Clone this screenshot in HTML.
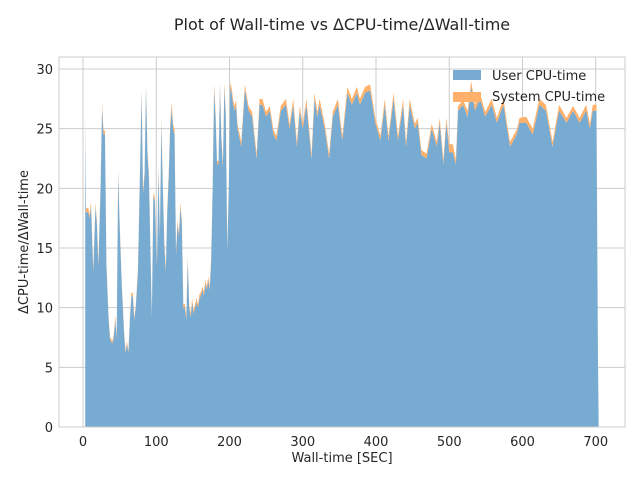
<!DOCTYPE html>
<html><head><meta charset="utf-8"><style>
body{margin:0;background:#fff;}
svg{display:block;font-family:"DejaVu Sans","Liberation Sans",sans-serif;}
</style></head><body>
<svg id="chart" width="640" height="480">
<text x="342" y="30" text-anchor="middle" font-size="16" fill="#262626">Plot of Wall-time vs ΔCPU-time/ΔWall-time</text>
<g id="grid"></g>
<g id="areas"></g>
<rect x="59" y="57" width="566" height="370" fill="none" stroke="#cccccc" stroke-width="1"/>
<g id="ticks"></g>
<text x="342" y="462" text-anchor="middle" font-size="13" fill="#262626">Wall-time [SEC]</text>
<text transform="translate(28,242) rotate(-90)" text-anchor="middle" font-size="13" fill="#262626">ΔCPU-time/ΔWall-time</text>
<g>
<g><rect x="453" y="70" width="28" height="10" fill="#77abd1"/><text x="492" y="80" font-size="13" fill="#262626">User CPU-time</text></g>
<g><rect x="453" y="92" width="28" height="10" fill="#ffb06a"/><text x="492" y="101" font-size="13" fill="#262626">System CPU-time</text></g>
</g>
</svg>
<script>
const times=[3,4,7,9,11,14,17,19,21,24,26,28,30,32,35,37,40,42,44,46,48,50,53,56,58,60,62,64,66,68,70,72,75,78,80,82,84,86,88,90,92,94,96,98,101,103,105,107,109,111,113,115,117,119,121,123,125,127,129,131,133,135,137,139,141,143,145,147,149,151,153,155,157,159,161,163,165,167,169,171,173,175,177,179,181,183,185,187,189,191,193,195,197,199,201,203,205,207,209,211,216,221,226,231,237,241,245,250,255,260,264,270,277,282,287,292,296,300,305,312,316,320,323,330,336,341,348,354,361,367,374,378,385,392,399,406,412,417,424,430,437,441,446,453,457,462,469,476,483,487,492,496,500,505,509,512,519,525,530,535,542,549,558,565,574,579,583,592,596,605,614,623,632,641,650,660,669,678,687,692,696,701,703,704];
const userVals=[26,18,18,17.5,18.5,13,18.5,17,13.5,20,26.8,24.5,24.5,13.5,9,7.3,7,7.5,9,7.5,21.3,17,11.8,8,6.2,7,6.2,9,10.9,11,9,10,13,22,28,19.6,21,28.5,22.9,21,15,9.2,19.3,19,13.5,21.5,16,25.5,20,15.4,13,18,21,25,26.8,25,24.5,14.5,17,16,18.5,17,10,10,9,14,10,9.2,10.5,9.5,10,10.5,10,10.8,11,11.5,11,12,11.5,12.3,11.5,14,20,28.3,26,22,22,28.5,24,21.8,28.5,26,14.8,20,28.5,28,27,26.5,27,25,23.5,28.3,26.5,26,22.5,27,27,26,26.5,24.5,24,26.5,27,25,27,23.5,26.5,25,27,22.5,27.5,26,27,25,22.5,26,27,24,28,27,28,27,28,28.2,25.5,24,27,24,27.5,24,27,23.5,27,25,25.5,22.8,22.5,25,23.5,25.5,22,25.5,23,23,22,26.5,27,26,28.5,26.5,27.5,26,27,25.5,27,25,23.5,24.5,25.5,25.5,24.5,27,26.5,23.5,26.5,25.5,26.5,25.5,26.5,25,26.5,26.5,6,0];
const sysVals=[0.4,0.3,0.4,0.3,0.4,0.3,0.3,0.3,0.3,0.3,0.4,0.4,0.3,0.3,0.2,0.2,0.2,0.2,0.3,0.2,0.3,0.3,0.2,0.2,0.2,0.2,0.2,0.2,0.3,0.3,0.2,0.2,0.3,0.3,0.3,0.3,0.3,0.3,0.3,0.3,0.3,0.2,0.3,0.3,0.3,0.3,0.3,0.4,0.3,0.3,0.3,0.3,0.3,0.4,0.4,0.4,0.4,0.3,0.3,0.3,0.3,0.3,0.3,0.3,0.3,0.3,0.3,0.3,0.3,0.3,0.3,0.3,0.3,0.3,0.3,0.3,0.3,0.3,0.3,0.3,0.3,0.3,0.3,0.4,0.4,0.3,0.3,0.4,0.4,0.3,0.4,0.4,0.3,0.3,0.4,0.4,0.4,0.4,0.4,0.4,0.4,0.4,0.4,0.4,0.4,0.5,0.5,0.4,0.4,0.4,0.4,0.4,0.5,0.4,0.5,0.4,0.4,0.4,0.5,0.4,0.5,0.4,0.5,0.4,0.4,0.4,0.5,0.4,0.5,0.5,0.5,0.5,0.5,0.5,0.4,0.4,0.5,0.4,0.5,0.4,0.5,0.4,0.5,0.4,0.4,0.4,0.4,0.4,0.4,0.4,0.4,0.4,0.7,0.7,0.4,0.4,0.4,0.5,0.5,0.5,0.5,0.4,0.5,0.4,0.5,0.4,0.4,0.4,0.4,0.5,0.5,0.5,0.5,0.4,0.5,0.4,0.4,0.4,0.5,0.4,0.5,0.5,0.5,0.3,0];
const xTicks=[0,100,200,300,400,500,600,700];
const yTicks=[0,5,10,15,20,25,30];
const X=v=>83+v*0.7325;
const Y=v=>427-v*11.933;
const NS='http://www.w3.org/2000/svg';
const grid=document.getElementById('grid'),ticks=document.getElementById('ticks'),areas=document.getElementById('areas');
xTicks.forEach(t=>{
  const l=document.createElementNS(NS,'line');
  l.setAttribute('x1',X(t));l.setAttribute('x2',X(t));l.setAttribute('y1',57);l.setAttribute('y2',427);
  l.setAttribute('stroke','#cccccc');
  
  
  grid.appendChild(l);
  const tx=document.createElementNS(NS,'text');
  tx.setAttribute('x',X(t));tx.setAttribute('y',446);tx.setAttribute('text-anchor','middle');tx.setAttribute('font-size','13');tx.setAttribute('fill','#262626');
  tx.textContent=t;
  
  
  ticks.appendChild(tx);
});
yTicks.forEach(t=>{
  const l=document.createElementNS(NS,'line');
  l.setAttribute('x1',59);l.setAttribute('x2',625);l.setAttribute('y1',Y(t));l.setAttribute('y2',Y(t));
  l.setAttribute('stroke','#cccccc');
  
  
  grid.appendChild(l);
  const tx=document.createElementNS(NS,'text');
  tx.setAttribute('x',53);tx.setAttribute('y',Y(t)+5);tx.setAttribute('text-anchor','end');tx.setAttribute('font-size','13');tx.setAttribute('fill','#262626');
  tx.textContent=t;
  
  
  ticks.appendChild(tx);
});
let top1=[],top2=[];
times.forEach((t,i)=>{top1.push([X(t),Y(userVals[i])]);top2.push([X(t),Y(userVals[i]+sysVals[i])]);});
const base=[[X(times[times.length-1]),Y(0)],[X(times[0]),Y(0)]];
const sysPath=document.createElementNS(NS,'path');
sysPath.setAttribute('d','M'+top2.map(p=>p.join(',')).join('L')+'L'+top1.slice().reverse().map(p=>p.join(',')).join('L')+'Z');
sysPath.setAttribute('fill','#ffb06a');


const userPath=document.createElementNS(NS,'path');
userPath.setAttribute('d','M'+top1.map(p=>p.join(',')).join('L')+'L'+base.map(p=>p.join(',')).join('L')+'Z');
userPath.setAttribute('fill','#77abd1');


areas.appendChild(userPath);areas.appendChild(sysPath);
</script>
</body></html>
